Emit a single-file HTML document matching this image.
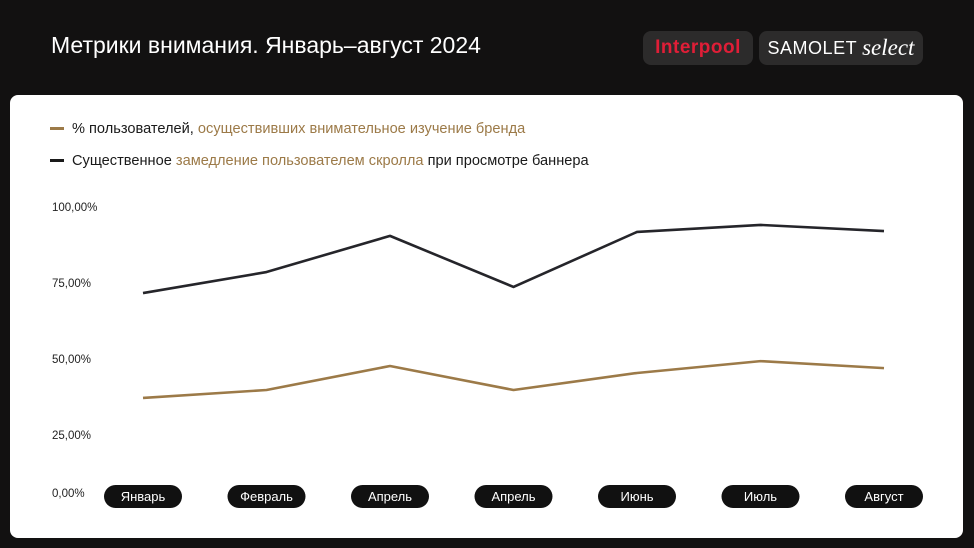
<!DOCTYPE html>
<html><head><meta charset="utf-8">
<style>
body{margin:0;width:974px;height:548px;background:#121111;overflow:hidden;font-family:"Liberation Sans",sans-serif;position:relative}
.title{position:absolute;left:51px;top:32px;color:#fff;font-size:23px}
.logo{position:absolute;top:31px;height:34px;border-radius:8px;background:#2c2b2b;display:flex;align-items:center;justify-content:center}
.card{position:absolute;left:10px;top:95px;width:953px;height:443px;background:#fff;border-radius:8px}
.leg{position:absolute;left:50px;font-size:14.6px;color:#1a1a1a;white-space:nowrap}
.leg i{display:inline-block;width:14px;height:3px;vertical-align:middle;margin-right:8px;position:relative;top:-1px}
.g{color:#9c7a48}
</style></head><body>
<div class="title">Метрики внимания. Январь–август 2024</div>
<div class="logo" style="left:643px;width:110px;color:#e01e37;font-weight:bold;font-size:19px;letter-spacing:0.5px">Interpool</div>
<div class="logo" style="left:759px;width:164px;color:#fff;font-size:18px"><span style="letter-spacing:0.5px">SAMOLET</span>&nbsp;<i style="font-family:'Liberation Serif',serif;font-size:23px">select</i></div>
<div class="card"></div>
<div class="leg" style="top:121px"><i style="background:#9c7a48"></i>% пользователей, <span class="g">осуществивших внимательное изучение бренда</span></div>
<div class="leg" style="top:153px"><i style="background:#1a1a1a"></i>Существенное <span class="g">замедление пользователем скролла</span> при просмотре баннера</div>
<svg id="chart" width="974" height="548" style="position:absolute;left:0;top:0"></svg>
<script>
const categories=["Январь","Февраль","Апрель","Апрель","Июнь","Июль","Август"];
const scrollSeries=[71.7,78.6,90.5,73.7,91.8,94.1,92.1];
const brandSeries=[37.2,39.8,47.7,39.8,45.4,49.3,47.0];
const tickValues=[100,75,50,25,0];
const tickLabels=["100,00%","75,00%","50,00%","25,00%","0,00%"];
const svg=document.getElementById('chart');
const NS='http://www.w3.org/2000/svg';
function x(i){return 143+i*123.5;}
function y(v){return 511-v*3.04;}
function mk(t,a){const e=document.createElementNS(NS,t);for(const k in a)e.setAttribute(k,a[k]);svg.appendChild(e);return e;}
tickValues.forEach((v,i)=>{
  const ty=v===0?497:y(v)+4;
  const t=mk('text',{x:52,y:ty,'font-size':11.5,fill:'#222','font-family':'Liberation Sans, sans-serif'});
  t.textContent=tickLabels[i];
  
  
});
function line(data,color,name){
  const p=mk('polyline',{points:data.map((v,i)=>x(i)+','+y(v)).join(' '),fill:'none',stroke:color,'stroke-width':2.6,'stroke-linejoin':'round'});
  
  
}
line(scrollSeries,'#25252a','scroll-slowdown-line');
line(brandSeries,'#9c7a48','brand-study-line');
categories.forEach((c,i)=>{
  const r=mk('rect',{x:x(i)-39,y:485,width:78,height:23,rx:11.5,fill:'#111'});
  
  
  const t=mk('text',{x:x(i),y:501,'font-size':13,fill:'#fff','text-anchor':'middle','font-family':'Liberation Sans, sans-serif'});
  t.textContent=c;
  
  
});
</script>
</body></html>
